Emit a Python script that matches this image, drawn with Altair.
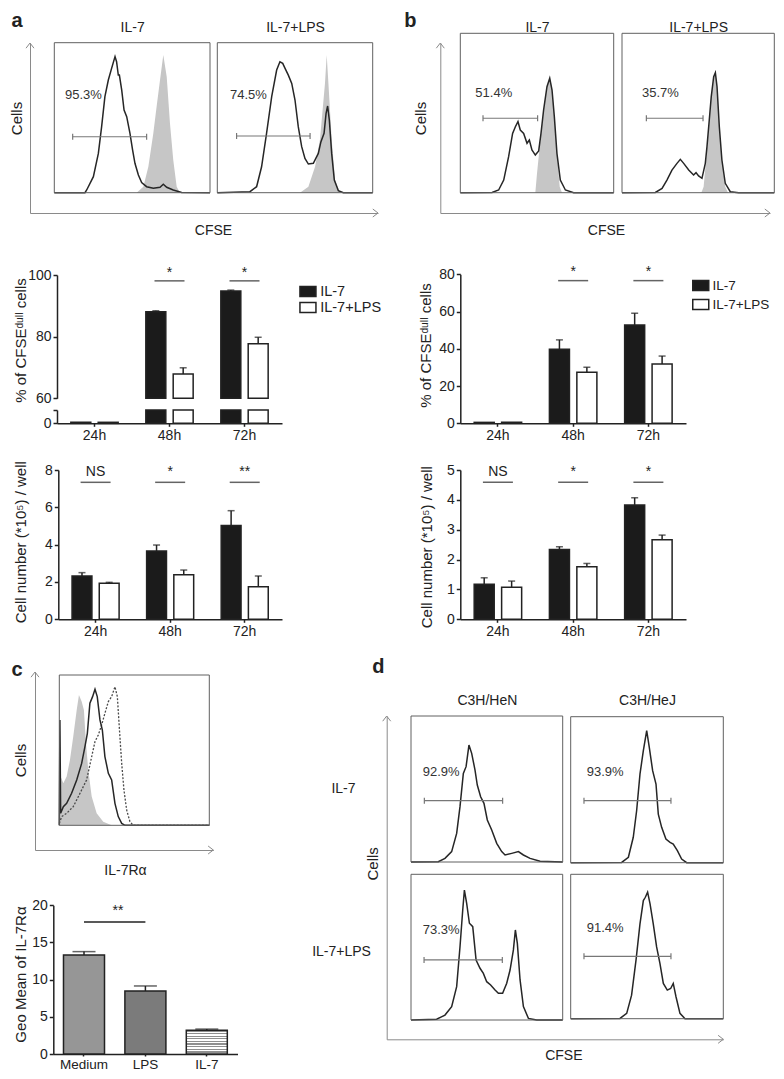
import altair as alt
import pandas as pd

W, H = 768, 1063
MARGIN = 8
FONT = "Liberation Sans"
INK = "#222222"
CURVE = "#262626"
BOX = "#606060"
ARROW = "#8a8a8a"
CTRL = "#c6c6c6"
GATE = "#777777"
ARROW_PATH = "M-1,1.3L0,0L1,1.3"
TICK_PATH = "M0,-1L0,1"
LEG_RECT = "M-1.6,-1H1.6V1H-1.6Z"

SERIES = ["IL-7", "IL-7+LPS"]
TIMES = ["24h", "48h", "72h"]

# ---------------- panel a : CFSE histograms (x: % of log CFSE axis, y: % of max) ----
A_IL7_X = [0, 19.7, 20.8, 25.1, 28.3, 30.4, 32.5, 34.7, 36.8, 39.0, 40.0, 41.1, 41.8, 43.3, 44.8,
           46.5, 48.6, 50.3, 51.8, 54.0, 56.1, 59.3, 63.6, 67.9, 70.0, 72.2, 76.4, 81.8, 100]
A_IL7_Y = [0, 0, 1.8, 10.7, 26.2, 44.0, 64.0, 75.1, 82.9, 90.7, 87.3, 78.4, 78.4, 68.4, 55.1,
           50.7, 39.6, 28.4, 19.6, 11.8, 6.7, 4.0, 2.9, 3.6, 5.6, 3.6, 1.8, 0.2, 0]
A_IL7_CTRL_X = [52.9, 57.2, 60.4, 63.6, 65.7, 67.9, 70.0, 72.2, 74.3, 76.4, 78.6, 80.7]
A_IL7_CTRL_Y = [0, 4.0, 17.3, 39.6, 57.3, 75.1, 91.8, 77.3, 46.2, 21.8, 4.0, 0]
A_LPS_X = [0, 21.0, 25.3, 28.5, 31.7, 35.0, 38.2, 40.3, 42.1, 43.6, 45.7, 47.9, 50.0, 52.1, 54.3,
           56.4, 58.6, 61.8, 65.0, 66.7, 68.7, 70.0, 71.0, 72.1, 73.6, 75.3, 77.9, 81.1, 100]
A_LPS_Y = [0, 0.7, 4.0, 17.3, 39.6, 64.0, 81.8, 87.3, 86.2, 82.9, 78.4, 72.9, 61.8, 44.0, 30.7,
           22.9, 19.1, 19.6, 26.2, 34.0, 39.6, 52.9, 57.8, 48.4, 26.2, 8.4, 1.3, 0, 0]
A_LPS_CTRL_X = [53.2, 58.6, 62.9, 66.1, 69.3, 70.4, 71.5, 73.6, 75.8, 79.0]
A_LPS_CTRL_Y = [0, 4.0, 17.3, 35.6, 72.9, 91.8, 72.9, 35.6, 8.4, 0]
A_GATES = [(11.8, 59.3), (12.4, 59.7)]
A_PCTS = ["95.3%", "74.5%"]

# ---------------- panel b : CFSE histograms ----
B_IL7_X = [0, 20.7, 25.0, 28.3, 31.5, 34.1, 35.9, 37.6, 39.1, 41.3, 43.5, 45.0, 46.7, 48.9, 51.1,
           52.6, 54.3, 56.5, 58.3, 59.8, 61.3, 63.0, 65.2, 68.5, 73.9, 100]
B_IL7_Y = [0, 0.2, 1.7, 7.9, 22.6, 37.2, 41.4, 44.6, 39.3, 37.2, 31.0, 33.0, 26.8, 23.6, 26.2,
           37.2, 51.9, 66.5, 71.8, 64.4, 47.7, 24.7, 7.9, 1.7, 0, 0]
B_IL7_CTRL_X = [48.9, 50.0, 52.2, 54.3, 56.5, 58.3, 59.8, 61.3, 63.0, 64.8, 66.3]
B_IL7_CTRL_Y = [0, 12.1, 33.0, 51.9, 66.5, 72.4, 64.4, 47.7, 24.7, 3.8, 0]
B_LPS_X = [0, 21.9, 26.3, 29.5, 32.8, 36.1, 38.3, 40.5, 43.8, 47.0, 48.6, 50.3, 52.5, 54.7, 55.8,
           57.3, 58.6, 60.2, 61.3, 62.4, 63.9, 65.6, 67.8, 71.1, 76.6, 100]
B_LPS_Y = [0, 0.2, 2.7, 7.9, 14.2, 18.4, 20.9, 18.4, 14.2, 11.1, 12.6, 10.5, 9.0, 18.4, 28.9,
           45.6, 60.3, 72.8, 75.3, 66.5, 41.4, 20.5, 5.9, 0.6, 0, 0]
B_LPS_CTRL_X = [52.1, 53.6, 55.8, 57.3, 58.6, 60.2, 61.3, 62.4, 63.9, 65.6, 67.8, 69.6]
B_LPS_CTRL_Y = [0, 3.8, 26.8, 45.6, 60.3, 72.8, 75.9, 66.5, 41.4, 20.5, 3.8, 0]
B_GATES = [(14.8, 50.4), (16.0, 53.2)]
B_PCTS = ["51.4%", "35.7%"]

# ---------------- bar data ----
A_PCT_IL7 = [0.3, 88.1, 94.8]
A_PCT_IL7_SEM = [0.0, 0.3, 0.3]
A_PCT_LPS = [0.3, 67.9, 77.7]
A_PCT_LPS_SEM = [0.0, 2.0, 2.1]
A_CELL_IL7 = [2.32, 3.66, 5.02]
A_CELL_IL7_SEM = [0.18, 0.32, 0.80]
A_CELL_LPS = [1.93, 2.39, 1.75]
A_CELL_LPS_SEM = [0.05, 0.25, 0.57]
B_PCT_IL7 = [0.5, 39.8, 52.8]
B_PCT_IL7_SEM = [0.0, 5.0, 6.3]
B_PCT_LPS = [0.5, 27.4, 31.8]
B_PCT_LPS_SEM = [0.0, 2.7, 4.3]
B_CELL_IL7 = [1.17, 2.34, 3.83]
B_CELL_IL7_SEM = [0.22, 0.09, 0.24]
B_CELL_LPS = [1.07, 1.76, 2.66]
B_CELL_LPS_SEM = [0.21, 0.11, 0.16]
SIG_A_PCT = ["", "*", "*"]
SIG_A_CELL = ["NS", "*", "**"]
SIG_B_PCT = ["", "*", "*"]
SIG_B_CELL = ["NS", "*", "*"]

# ---------------- panel c ----
C_CTRL_X = [0, 0.9, 2.7, 4.9, 7.1, 9.3, 11.6, 13.1, 14.9, 16.4, 17.8, 19.3, 21.6, 24.9, 29.3, 34.9]
C_CTRL_Y = [0, 32.4, 27.9, 32.4, 43.5, 59.0, 76.7, 86.7, 82.3, 76.7, 54.5, 36.8, 19.1, 8.0, 2.4, 0]
C_SOLID_X = [0, 0.4, 0.9, 2.7, 4.9, 8.2, 11.6, 14.9, 17.1, 18.7, 20.4, 22.2, 23.8, 25.3, 27.1,
             28.7, 30.4, 32.7, 34.9, 37.1, 39.3, 41.6, 43.8, 100]
C_SOLID_Y = [0, 70.0, 8.0, 12.4, 14.6, 21.3, 30.2, 41.2, 52.3, 61.2, 81.2, 85.6, 90.5, 85.6, 70.1,
             63.4, 45.7, 34.6, 30.2, 14.6, 5.8, 1.3, 0, 0]
C_DOT_X = [0, 1.6, 4.9, 9.3, 13.8, 18.2, 21.6, 23.8, 26.0, 28.2, 30.4, 32.7, 34.9, 37.1, 38.7,
           40.4, 41.6, 43.1, 44.9, 47.1, 49.3, 100]
C_DOT_Y = [1.3, 5.8, 8.0, 12.4, 21.3, 30.2, 45.7, 55.7, 60.1, 66.7, 74.5, 82.3, 85.6, 92.2, 85.6,
           59.0, 41.2, 23.5, 10.2, 2.4, 0, 0]
C_GROUPS = ["Medium", "LPS", "IL-7"]
C_GEO = [13.33, 8.48, 3.18]
C_GEO_SEM = [0.44, 0.67, 0.17]

# ---------------- panel d ----
D_HEN_IL7_X = [0, 18.0, 22.4, 26.8, 30.1, 32.3, 34.5, 36.3, 38.2, 40.0, 42.2, 43.7, 45.9, 48.1,
               50.3, 53.2, 56.5, 59.8, 62.0, 66.4, 70.8, 74.1, 78.5, 85.1, 100]
D_HEN_IL7_Y = [0, 0.2, 2.5, 7.1, 19.6, 37.9, 60.7, 65.3, 80.1, 74.4, 63.0, 52.7, 44.7, 40.2,
               28.8, 21.9, 12.8, 7.1, 4.8, 5.9, 7.1, 4.8, 2.5, 0.5, 0]
D_HEJ_IL7_X = [0, 33.4, 37.8, 41.0, 43.2, 45.4, 47.6, 49.8, 51.5, 53.7, 55.9, 57.4, 59.6, 62.4,
               65.1, 67.2, 69.9, 72.7, 76.0, 100]
D_HEJ_IL7_Y = [0, 0.2, 3.7, 17.4, 35.6, 60.7, 76.7, 90.4, 79.0, 63.0, 53.9, 33.3, 24.2, 16.2,
               13.9, 12.8, 8.2, 2.5, 0, 0]
D_HEN_LPS_X = [0, 16.9, 22.4, 26.8, 30.1, 32.3, 34.1, 35.2, 36.7, 38.5, 40.7, 42.9, 45.5, 47.7,
               49.9, 52.5, 55.4, 57.6, 60.4, 63.1, 65.3, 67.5, 68.8, 70.1, 71.9, 74.1, 77.4, 82.9, 100]
D_HEN_LPS_Y = [0, 0.5, 3.4, 9.2, 22.9, 50.3, 75.5, 89.2, 80.1, 66.4, 64.1, 41.2, 35.5, 32.0,
               26.3, 24.0, 20.6, 18.3, 18.3, 25.2, 34.3, 48.1, 61.8, 52.6, 27.5, 9.2, 1.1, 0, 0]
D_HEJ_LPS_X = [0, 32.3, 36.7, 39.9, 42.8, 45.4, 47.6, 48.9, 50.4, 52.0, 54.1, 56.3, 58.5, 60.7,
               63.3, 65.5, 67.2, 69.0, 71.6, 74.9, 100]
D_HEJ_LPS_Y = [0, 0.2, 3.7, 16.3, 40.5, 65.7, 81.8, 84.1, 87.6, 79.5, 65.7, 49.7, 38.2, 24.4,
               19.8, 20.9, 24.4, 15.2, 3.7, 0, 0]
D_GATES = [(8.8, 60.4), (8.7, 65.7), (8.6, 60.2), (8.7, 65.7)]
D_PCTS = ["92.9%", "93.9%", "73.3%", "91.4%"]


def X(v):
    return v - MARGIN


def Y(v):
    return v - MARGIN


# ---------------- builders (each returns a flat list of single-mark charts) ----
def arrow_frame(x0, x1, ytop, ybot, xtitle, xt, ytitle, yt):
    xs = alt.Scale(domain=[0, 1], range=[X(x0), X(x1)], nice=False)
    ys = alt.Scale(domain=[0, 1], range=[Y(ybot), Y(ytop)], nice=False)
    df = pd.DataFrame({"u": [1, 0], "v": [0, 1], "rot": [90, 0]})
    xaxis = alt.Axis(orient="bottom", offset=Y(ybot) - H, grid=False, ticks=False, labels=False,
                     domainColor=ARROW, domainWidth=1, title=xtitle, titleX=X(xt[0]),
                     titleY=xt[1] - ybot, titleAlign="center", titleBaseline="middle",
                     titleFontSize=14, titleFontWeight="normal")
    yaxis = alt.Axis(orient="left", offset=-X(x0), grid=False, ticks=False, labels=False,
                     domainColor=ARROW, domainWidth=1, title=ytitle, titleX=yt[0] - x0,
                     titleY=Y(yt[1]), titleAngle=270, titleAlign="center", titleBaseline="middle",
                     titleFontSize=15, titleFontWeight="normal")
    return [alt.Chart(df).mark_point(shape=ARROW_PATH, filled=False, stroke=ARROW, strokeWidth=1,
                                     size=64, opacity=1).encode(
        x=alt.X("u:Q", scale=xs, axis=xaxis),
        y=alt.Y("v:Q", scale=ys, axis=yaxis),
        angle=alt.Angle("rot:Q", scale=None),
    )]


def hist_box(curves, x0, x1, top, base, gate=None, title=None, title_cy=None, side=None):
    xs = alt.Scale(domain=[0, 100], range=[X(x0), X(x1)], nice=False)
    ys = alt.Scale(domain=[0, 100], range=[Y(base), Y(top)], nice=False)
    if title:
        top_axis = alt.Axis(orient="top", offset=-Y(top), domain=False, ticks=False, labels=False,
                            grid=False, title=title, titleY=title_cy - top, titleAlign="center",
                            titleBaseline="middle", titleFontSize=14, titleFontWeight="normal")
    else:
        top_axis = None
    if side:
        text, tx, ty, size, weight, align, baseline = side
        left_axis = alt.Axis(orient="left", offset=0, domain=False, ticks=False, labels=False,
                             grid=False, title=text, titleX=X(tx), titleY=Y(ty), titleAngle=0,
                             titleAlign=align, titleBaseline=baseline, titleFontSize=size,
                             titleFontWeight=weight)
    else:
        left_axis = None
    layers = []
    for cx, cy, kind in curves:
        df = pd.DataFrame({"x": cx, "y": cy})
        enc = dict(x=alt.X("x:Q", scale=xs, axis=None), y=alt.Y("y:Q", scale=ys, axis=None))
        if kind == "fill":
            m = alt.Chart(df).mark_area(color=CTRL, interpolate="linear")
        elif kind == "dot":
            m = alt.Chart(df).mark_line(color="#4a4a4a", strokeWidth=1.3, strokeDash=[2, 1.6])
        else:
            m = alt.Chart(df).mark_line(color=CURVE, strokeWidth=1.5)
        layers.append(m.encode(**enc))
    if gate:
        lo, hi, gy, pct, lx, ly = gate
        gdf = pd.DataFrame({"lo": [lo], "hi": [hi], "gy": [gy]})
        layers.append(alt.Chart(gdf).mark_rule(color=GATE, strokeWidth=1.2).encode(
            x=alt.X("lo:Q", scale=xs, axis=None), x2="hi",
            y=alt.Y("gy:Q", scale=ys, axis=None)))
        edf = pd.DataFrame({"gx": [lo, hi], "gy": [gy, gy]})
        layers.append(alt.Chart(edf).mark_point(shape=TICK_PATH, size=36, filled=False,
                                                stroke=GATE, strokeWidth=1.2, opacity=1).encode(
            x=alt.X("gx:Q", scale=xs, axis=None), y=alt.Y("gy:Q", scale=ys, axis=None)))
        tdf = pd.DataFrame({"lx": [lx], "ly": [ly], "t": [pct]})
        layers.append(alt.Chart(tdf).mark_text(align="left", baseline="middle", font=FONT,
                                               fontSize=13, color="#333333").encode(
            x=alt.X("lx:Q", scale=xs, axis=None), y=alt.Y("ly:Q", scale=ys, axis=None),
            text="t:N"))
    fdf = pd.DataFrame({"x0": [0], "x1": [100], "y0": [0], "y1": [100]})
    layers.append(alt.Chart(fdf).mark_rect(fillOpacity=0, stroke=BOX, strokeWidth=1).encode(
        x=alt.X("x0:Q", scale=xs, axis=top_axis), x2="x1",
        y=alt.Y("y0:Q", scale=ys, axis=left_axis), y2="y1"))
    return layers


def grouped(v1, e1, v2, e2, xr, ydom, yr, yvalues, ytitle=None, ytitle_pos=None, show_x=True,
            legend=None, base=0, keep_above=None, clamp=False, label_expr=None, sig=None,
            sig_line=None, sig_text=None, errors=True):
    rows = []
    for i, c in enumerate(TIMES):
        for s, v, e in ((SERIES[0], v1[i], e1[i]), (SERIES[1], v2[i], e2[i])):
            rows.append({"t": c, "s": s, "v": v, "top": v + e, "base": base})
    df = pd.DataFrame(rows)
    if keep_above is not None:
        df = df[df.v > keep_above]

    def xs():
        return alt.Scale(domain=TIMES, range=[X(xr[0]), X(xr[1])], paddingInner=0.369,
                         paddingOuter=0.1845)

    def os_():
        return alt.Scale(domain=SERIES, paddingInner=0.27, paddingOuter=0)

    def ys():
        return alt.Scale(domain=ydom, range=[Y(yr[0]), Y(yr[1])], nice=False, clamp=clamp)

    fs = alt.Scale(domain=SERIES, range=["#1b1b1b", "#ffffff"])
    if show_x:
        xaxis = alt.Axis(orient="bottom", offset=Y(yr[0]) - H, title=None, labelAngle=0,
                         tickSize=3, grid=False)
    else:
        xaxis = None
    yargs = dict(orient="left", offset=-X(xr[0]), values=yvalues, grid=False, tickSize=4)
    if label_expr:
        yargs["labelExpr"] = label_expr
    if ytitle:
        yargs.update(title=ytitle, titleX=ytitle_pos[0] - xr[0], titleY=Y(ytitle_pos[1]),
                     titleAngle=270, titleAlign="center", titleBaseline="middle")
    else:
        yargs["title"] = None
    yaxis = alt.Axis(**yargs)
    fill = alt.Fill("s:N", scale=fs, legend=legend) if legend else alt.Fill("s:N", scale=fs, legend=None)
    layers = [alt.Chart(df).mark_bar(stroke=INK, strokeWidth=1.5).encode(
        x=alt.X("t:N", scale=xs(), axis=xaxis),
        xOffset=alt.XOffset("s:N", scale=os_()),
        y=alt.Y("v:Q", scale=ys(), axis=yaxis),
        y2="base",
        fill=fill,
    )]
    if errors:
        edf = df[df.top > df.v + 1e-6]
        layers.append(alt.Chart(edf).mark_rule(color=INK, strokeWidth=1.5).encode(
            x=alt.X("t:N", scale=xs(), axis=None), xOffset=alt.XOffset("s:N", scale=os_()),
            y=alt.Y("v:Q", scale=ys(), axis=None), y2="top"))
        layers.append(alt.Chart(edf).mark_tick(color=INK, thickness=1.5, size=7).encode(
            x=alt.X("t:N", scale=xs(), axis=None), xOffset=alt.XOffset("s:N", scale=os_()),
            y=alt.Y("top:Q", scale=ys(), axis=None)))
    if sig:
        sdf = pd.DataFrame({"t": TIMES, "lab": sig, "ly": [sig_line] * 3, "ty": [sig_text] * 3})
        sdf = sdf[sdf.lab != ""]
        layers.append(alt.Chart(sdf).mark_tick(color=INK, thickness=1.5, size=30).encode(
            x=alt.X("t:N", scale=xs(), axis=None), y=alt.Y("ly:Q", scale=ys(), axis=None)))
        layers.append(alt.Chart(sdf).mark_text(font=FONT, fontSize=14, color=INK,
                                               baseline="alphabetic").encode(
            x=alt.X("t:N", scale=xs(), axis=None), y=alt.Y("ty:Q", scale=ys(), axis=None),
            text="lab:N"))
    return layers


def legend_at(x, y, pad, size):
    # symbol path is 16 px wide, 10 px tall; layout box is 10 px, hence the +3 shifts
    return alt.Legend(orient="none", legendX=X(x + 3), legendY=Y(y), title=None,
                      symbolType=LEG_RECT, symbolSize=100, symbolStrokeColor=INK,
                      symbolStrokeWidth=1.5, symbolOpacity=1, labelFont=FONT,
                      labelFontSize=size, labelColor=INK, labelOffset=5, rowPadding=pad,
                      padding=0)


def c_bars():
    df = pd.DataFrame({"g": C_GROUPS, "v": C_GEO,
                       "top": [v + e for v, e in zip(C_GEO, C_GEO_SEM)]})
    y0, y20 = 1054.0, 905.3

    def xs():
        return alt.Scale(domain=C_GROUPS, range=[X(53.3), X(237.5)], paddingInner=0.332,
                         paddingOuter=0.166)

    def ys():
        return alt.Scale(domain=[0, 20], range=[Y(y0), Y(y20)], nice=False)

    xaxis = alt.Axis(orient="bottom", offset=Y(y0) - H, title=None, labelAngle=0,
                     tickSize=2, labelPadding=1, labelFontSize=13.5, grid=False)
    yaxis = alt.Axis(orient="left", offset=-X(53.3), values=[0, 5, 10, 15, 20], grid=False,
                     tickSize=4, title="Geo Mean of IL-7Rα", titleX=20 - 53.3, titleY=Y(974),
                     titleAngle=270, titleAlign="center", titleBaseline="middle")
    stops = []
    n = 9
    for i in range(n):
        a, b, c = i / n, (i + 0.45) / n, (i + 1) / n
        stops += [{"offset": a, "color": "#8f8f8f"}, {"offset": b, "color": "#8f8f8f"},
                  {"offset": b, "color": "#ffffff"}, {"offset": c, "color": "#ffffff"}]
    stripes = {"gradient": "linear", "x1": 0, "y1": 0, "x2": 0, "y2": 1, "stops": stops}
    fills = {"Medium": "#969696", "LPS": "#7b7b7b", "IL-7": stripes}
    layers = []
    for i, g in enumerate(C_GROUPS):
        layers.append(alt.Chart(df).transform_filter(alt.datum.g == g).mark_bar(
            fill=fills[g], stroke=INK, strokeWidth=1.5).encode(
            x=alt.X("g:N", scale=xs(), axis=xaxis if i == 0 else None),
            y=alt.Y("v:Q", scale=ys(), axis=yaxis if i == 0 else None)))
    layers.append(alt.Chart(df).mark_rule(color=INK, strokeWidth=1.5).encode(
        x=alt.X("g:N", scale=xs(), axis=None), y=alt.Y("v:Q", scale=ys(), axis=None), y2="top"))
    layers.append(alt.Chart(df).mark_tick(color=INK, thickness=1.5, size=23).encode(
        x=alt.X("g:N", scale=xs(), axis=None), y=alt.Y("top:Q", scale=ys(), axis=None)))
    sdf = pd.DataFrame({"a": ["Medium"], "b": ["LPS"], "lab": ["**"], "ly": [17.76], "ty": [18.63]})
    layers.append(alt.Chart(sdf).mark_rule(color=INK, strokeWidth=1.5).encode(
        x=alt.X("a:N", scale=xs(), axis=None), x2="b", y=alt.Y("ly:Q", scale=ys(), axis=None)))
    layers.append(alt.Chart(sdf).mark_text(font=FONT, fontSize=14, color=INK,
                                           baseline="alphabetic", dx=34).encode(
        x=alt.X("a:N", scale=xs(), axis=None), y=alt.Y("ty:Q", scale=ys(), axis=None),
        text="lab:N"))
    return layers


children = []

# ---- panel a histograms
children += arrow_frame(30, 378, 43, 213, "CFSE", (213, 230), "Cells", (16, 118))
children += hist_box(
    [(A_IL7_CTRL_X, A_IL7_CTRL_Y, "fill"), (A_IL7_X, A_IL7_Y, "line")],
    54.3, 210, 42.7, 192.7,
    gate=(A_GATES[0][0], A_GATES[0][1], 37.3, A_PCTS[0], 6.9, 65),
    title="IL-7", title_cy=27, side=("a", 11, 26, 20, "bold", "left", "alphabetic"))
children += hist_box(
    [(A_LPS_CTRL_X, A_LPS_CTRL_Y, "fill"), (A_LPS_X, A_LPS_Y, "line")],
    217.3, 372.7, 42.7, 192.7,
    gate=(A_GATES[1][0], A_GATES[1][1], 37.8, A_PCTS[1], 8.2, 65),
    title="IL-7+LPS", title_cy=27)

# ---- panel b histograms
children += arrow_frame(440.3, 770, 43, 213, "CFSE", (606, 230), "Cells", (420, 118))
children += hist_box(
    [(B_IL7_CTRL_X, B_IL7_CTRL_Y, "fill"), (B_IL7_X, B_IL7_Y, "line")],
    460.3, 613.7, 33.3, 192.7,
    gate=(B_GATES[0][0], B_GATES[0][1], 46.7, B_PCTS[0], 9.8, 62.3),
    title="IL-7", title_cy=27, side=("b", 403.7, 26, 20, "bold", "left", "alphabetic"))
children += hist_box(
    [(B_LPS_CTRL_X, B_LPS_CTRL_Y, "fill"), (B_LPS_X, B_LPS_Y, "line")],
    622, 774.3, 33.3, 192.7,
    gate=(B_GATES[1][0], B_GATES[1][1], 46.7, B_PCTS[1], 13.1, 62.3),
    title="IL-7+LPS", title_cy=27)

# ---- panel a % CFSE-dull (broken axis)
children += grouped(A_PCT_IL7, A_PCT_IL7_SEM, A_PCT_LPS, A_PCT_LPS_SEM, (57, 282),
                    [60, 100], (398.3, 275), [60, 80, 100],
                    ytitle="% of CFSEᵈᵘˡˡ cells", ytitle_pos=(20, 340), show_x=False,
                    legend=legend_at(297.7, 284.3, -5, 14.5), base=60, keep_above=60,
                    clamp=True, sig=SIG_A_PCT, sig_line=98.1, sig_text=99.45)
children += grouped(A_PCT_IL7, A_PCT_IL7_SEM, A_PCT_LPS, A_PCT_LPS_SEM, (57, 282),
                    [0, 4], (423.3, 410), [0, 4], clamp=True,
                    label_expr="datum.value == 0 ? '0' : ''", errors=False)
# ---- panel a cell number
children += grouped(A_CELL_IL7, A_CELL_IL7_SEM, A_CELL_LPS, A_CELL_LPS_SEM, (58.3, 282),
                    [0, 8], (619.3, 470), [0, 2, 4, 6, 8],
                    ytitle="Cell number (*10⁵) / well", ytitle_pos=(20, 541.7),
                    sig=SIG_A_CELL, sig_line=7.34, sig_text=7.7)
# ---- panel b % CFSE-dull
children += grouped(B_PCT_IL7, B_PCT_IL7_SEM, B_PCT_LPS, B_PCT_LPS_SEM, (460.3, 686),
                    [0, 80], (423.3, 274.3), [0, 20, 40, 60, 80],
                    ytitle="% of CFSEᵈᵘˡˡ cells", ytitle_pos=(425.3, 345),
                    legend=legend_at(691, 278.8, 2, 13.5),
                    sig=SIG_B_PCT, sig_line=76.6, sig_text=78.9)
# ---- panel b cell number
children += grouped(B_CELL_IL7, B_CELL_IL7_SEM, B_CELL_LPS, B_CELL_LPS_SEM, (460.3, 686),
                    [0, 5], (619.3, 470), [0, 1, 2, 3, 4, 5],
                    ytitle="Cell number (*10⁵) / well", ytitle_pos=(426, 546.7),
                    sig=SIG_B_CELL, sig_line=4.59, sig_text=4.8)

# ---- panel c
children += arrow_frame(35, 213.3, 672, 850, "IL-7Rα", (125, 870), "Cells", (20, 760))
children += hist_box(
    [(C_CTRL_X, C_CTRL_Y, "fill"), (C_DOT_X, C_DOT_Y, "dot"), (C_SOLID_X, C_SOLID_Y, "line")],
    59.3, 209.3, 675, 825.3, side=("c", 11, 675, 20, "bold", "left", "alphabetic"))
children += c_bars()

# ---- panel d
children += arrow_frame(386.7, 723.3, 716, 1039.3, "CFSE", (563.3, 1055), "Cells", (372.3, 863.3))
children += hist_box(
    [(D_HEN_IL7_X, D_HEN_IL7_Y, "line")], 411, 562.7, 716, 862,
    gate=(D_GATES[0][0], D_GATES[0][1], 42.0, D_PCTS[0], 7.7, 61.9),
    title="C3H/HeN", title_cy=700.7, side=("IL-7", 343, 788, 14, "normal", "center", "middle"))
children += hist_box(
    [(D_HEJ_IL7_X, D_HEJ_IL7_Y, "line")], 570.7, 723.3, 716.7, 862.7,
    gate=(D_GATES[1][0], D_GATES[1][1], 42.5, D_PCTS[1], 10.5, 61.9),
    title="C3H/HeJ", title_cy=700.7, side=("d", 371.7, 672.7, 20, "bold", "left", "alphabetic"))
children += hist_box(
    [(D_HEN_LPS_X, D_HEN_LPS_Y, "line")], 411, 562.7, 874.3, 1020,
    gate=(D_GATES[2][0], D_GATES[2][1], 41.2, D_PCTS[2], 7.7, 61.8),
    side=("IL-7+LPS", 341, 951, 14, "normal", "center", "middle"))
children += hist_box(
    [(D_HEJ_LPS_X, D_HEJ_LPS_Y, "line")], 570.7, 723.3, 874.3, 1018.7,
    gate=(D_GATES[3][0], D_GATES[3][1], 43.2, D_PCTS[3], 10.5, 63.0))

chart = (
    alt.layer(*children)
    .resolve_scale(x="independent", y="independent", xOffset="independent", fill="independent")
    .properties(width=W, height=H, autosize=alt.AutoSizeParams(type="none"), padding=0,
                background="white")
    .configure_view(strokeWidth=0)
    .configure_axis(labelFont=FONT, titleFont=FONT, labelFontSize=14, titleFontSize=15,
                    titleFontWeight="normal", labelColor=INK, titleColor=INK, domainColor=INK,
                    tickColor=INK, domainWidth=1.5, tickWidth=1.5, labelPadding=2, grid=False)
    .configure_legend(labelFont=FONT)
)

chart.save("out.html", embed_options={"renderer": "svg", "actions": False})
